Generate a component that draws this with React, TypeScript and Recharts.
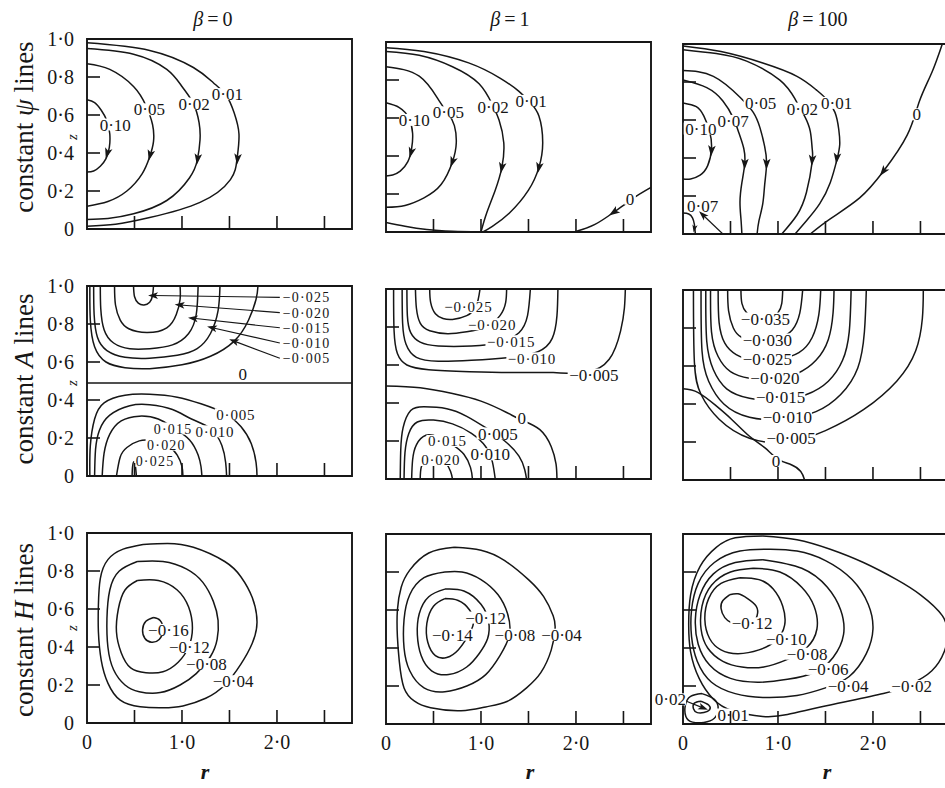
import { LineChart, Line, XAxis, YAxis, ReferenceArea, ReferenceDot, ReferenceLine } from 'recharts';

type Pt = [number, number];
type Lab = { t: string; r: number; z: number; a?: 'start' | 'middle'; fs?: number };
type Arrow = [number, number, number, number?]; // r, z, screen angle, scale

// axes
const R_MAX = 2.79;
const R_TICKS = [0, 0.5, 1, 1.5, 2, 2.5];
const R_LABELS = [0, 1, 2];
const Z_TICKS = [0, 0.2, 0.4, 0.6, 0.8, 1];
const COL_TITLES = ['0', '1', '100'];
const ROW_TITLES = ['ψ', 'A', 'H'];

// ---- constant psi lines ----
const psi0_010: Pt[] = [[0, 0.68], [0.08, 0.665], [0.15, 0.625], [0.21, 0.57], [0.24, 0.5], [0.235, 0.43], [0.2, 0.37], [0.14, 0.33], [0.07, 0.305], [0, 0.3]];
const psi0_005: Pt[] = [[0, 0.87], [0.24, 0.84], [0.49, 0.75], [0.62, 0.65], [0.69, 0.55], [0.7, 0.46], [0.66, 0.38], [0.58, 0.29], [0.42, 0.2], [0.22, 0.145], [0, 0.12]];
const psi0_002: Pt[] = [[0, 0.95], [0.49, 0.92], [0.84, 0.84], [1.0, 0.75], [1.12, 0.66], [1.18, 0.56], [1.19, 0.47], [1.16, 0.36], [1.08, 0.27], [0.84, 0.15], [0.49, 0.08], [0.22, 0.055], [0, 0.05]];
const psi0_001: Pt[] = [[0, 0.98], [0.66, 0.94], [1.12, 0.85], [1.33, 0.77], [1.47, 0.7], [1.55, 0.61], [1.6, 0.5], [1.58, 0.37], [1.51, 0.26], [1.19, 0.14], [0.66, 0.06], [0.3, 0.025], [0, 0.015]];
const psi0Labels: Lab[] = [{ t: '0·10', r: 0.29, z: 0.55 }, { t: '0·05', r: 0.65, z: 0.63 }, { t: '0·02', r: 1.12, z: 0.66 }, { t: '0·01', r: 1.47, z: 0.71 }];
const psi0Arrows: Arrow[] = [[0.215, 0.4, 106], [0.665, 0.39, 104], [1.165, 0.37, 98], [1.585, 0.37, 96]];

const psi1_010: Pt[] = [[0, 0.68], [0.14, 0.655], [0.24, 0.6], [0.28, 0.52], [0.27, 0.44], [0.23, 0.37], [0.15, 0.32], [0.07, 0.3], [0, 0.295]];
const psi1_005: Pt[] = [[0, 0.87], [0.35, 0.82], [0.56, 0.69], [0.66, 0.62], [0.72, 0.56], [0.74, 0.47], [0.7, 0.37], [0.58, 0.25], [0.4, 0.18], [0.2, 0.14], [0, 0.13]];
const psi1_002: Pt[] = [[0, 0.95], [0.35, 0.93], [0.7, 0.87], [0.98, 0.78], [1.12, 0.67], [1.19, 0.59], [1.24, 0.47], [1.22, 0.34], [1.15, 0.22], [1.06, 0.1], [1.0, 0]];
const psi1_002b: Pt[] = [[1.0, 0], [0.7, 0.004], [0.43, 0.013], [0.2, 0.03], [0, 0.05]];
const psi1_001: Pt[] = [[0, 0.97], [0.4, 0.95], [0.87, 0.89], [1.2, 0.81], [1.4, 0.74], [1.52, 0.68], [1.61, 0.61], [1.65, 0.47], [1.61, 0.34], [1.5, 0.22], [1.3, 0.1], [1.12, 0.03], [1.02, 0]];
const psi1_0: Pt[] = [[2.79, 0.235], [2.64, 0.19], [2.5, 0.14], [2.4, 0.105], [2.2, 0.04], [1.98, 0]];
const psi1Labels: Lab[] = [{ t: '0·10', r: 0.29, z: 0.59 }, { t: '0·05', r: 0.65, z: 0.63 }, { t: '0·02', r: 1.12, z: 0.66 }, { t: '0·01', r: 1.52, z: 0.69 }, { t: '0', r: 2.57, z: 0.175 }];
const psi1Arrows: Arrow[] = [[0.265, 0.42, 105], [0.7, 0.37, 110], [1.22, 0.34, 100], [1.61, 0.34, 102], [2.4, 0.105, 146]];

const psi100_010: Pt[] = [[0, 0.69], [0.14, 0.67], [0.22, 0.62], [0.28, 0.54], [0.3, 0.45], [0.26, 0.36], [0.18, 0.31], [0.08, 0.29], [0, 0.29]];
const psi100_007: Pt[] = [[0, 0.81], [0.25, 0.77], [0.42, 0.7], [0.53, 0.61], [0.59, 0.53], [0.64, 0.45], [0.65, 0.37], [0.62, 0.27], [0.6, 0.17], [0.61, 0.08], [0.62, 0]];
const psi100_005: Pt[] = [[0, 0.86], [0.32, 0.83], [0.6, 0.72], [0.74, 0.64], [0.81, 0.56], [0.86, 0.46], [0.88, 0.37], [0.86, 0.26], [0.84, 0.16], [0.8, 0.07], [0.78, 0]];
const psi100_002: Pt[] = [[0, 0.97], [0.35, 0.95], [0.67, 0.91], [1.02, 0.81], [1.18, 0.71], [1.28, 0.62], [1.34, 0.54], [1.36, 0.45], [1.36, 0.38], [1.3, 0.22], [1.2, 0.1], [1.04, 0]];
const psi100_001: Pt[] = [[0, 0.99], [0.4, 0.96], [0.84, 0.9], [1.2, 0.83], [1.4, 0.76], [1.51, 0.71], [1.6, 0.64], [1.64, 0.55], [1.65, 0.47], [1.62, 0.39], [1.55, 0.27], [1.44, 0.16], [1.3, 0.07], [1.18, 0]];
const psi100_0: Pt[] = [[2.73, 1.0], [2.62, 0.85], [2.49, 0.7], [2.36, 0.52], [2.11, 0.33], [1.86, 0.19], [1.55, 0.08], [1.34, 0]];
const psi100_007b: Pt[] = [[0, 0.11], [0.06, 0.105], [0.1, 0.085], [0.12, 0.05], [0.13, 0]];
const psi100Labels: Lab[] = [{ t: '0·10', r: 0.18, z: 0.555 }, { t: '0·07', r: 0.52, z: 0.595 }, { t: '0·05', r: 0.81, z: 0.69 }, { t: '0·02', r: 1.25, z: 0.66 }, { t: '0·01', r: 1.61, z: 0.69 }, { t: '0', r: 2.46, z: 0.63 }, { t: '0·07', r: 0.2, z: 0.15 }];
const psi100Arrows: Arrow[] = [[0.3, 0.44, 95], [0.65, 0.37, 92], [0.88, 0.37, 92], [1.36, 0.39, 95], [1.62, 0.4, 97], [2.11, 0.33, 127], [0.12, 0.03, 100, 0.7]];
const psi100Leaders: [Pt, Pt][] = [[[0.42, 0], [0.21, 0.1]]];

// ---- constant A lines ----
const a0_m025: Pt[] = [[0.49, 1], [0.5, 0.945], [0.54, 0.91], [0.6, 0.9], [0.66, 0.915], [0.69, 0.95], [0.7, 1]];
const a0_m020: Pt[] = [[0.29, 1], [0.3, 0.9], [0.35, 0.82], [0.44, 0.775], [0.63, 0.755], [0.84, 0.78], [0.94, 0.85], [0.98, 0.93], [0.98, 1]];
const a0_m015: Pt[] = [[0.14, 1], [0.145, 0.88], [0.18, 0.77], [0.28, 0.7], [0.45, 0.67], [0.66, 0.67], [0.9, 0.69], [1.07, 0.75], [1.15, 0.85], [1.17, 1]];
const a0_m010: Pt[] = [[0.07, 1], [0.075, 0.85], [0.11, 0.73], [0.21, 0.66], [0.4, 0.625], [0.66, 0.62], [0.95, 0.635], [1.16, 0.67], [1.3, 0.75], [1.38, 0.87], [1.4, 1]];
const a0_m005: Pt[] = [[0.03, 1], [0.035, 0.82], [0.08, 0.68], [0.2, 0.6], [0.4, 0.57], [0.66, 0.565], [1.0, 0.585], [1.3, 0.63], [1.55, 0.71], [1.7, 0.82], [1.78, 0.93], [1.8, 1]];
const a0_0: Pt[] = [[0, 0.49], [2.79, 0.49]];
const a0_p005: Pt[] = [[0.03, 0], [0.035, 0.16], [0.08, 0.3], [0.18, 0.385], [0.4, 0.425], [0.66, 0.43], [0.95, 0.415], [1.2, 0.38], [1.45, 0.33], [1.62, 0.26], [1.73, 0.17], [1.78, 0.07], [1.79, 0]];
const a0_p010: Pt[] = [[0.08, 0], [0.09, 0.14], [0.13, 0.24], [0.24, 0.32], [0.45, 0.37], [0.66, 0.375], [0.9, 0.35], [1.1, 0.3], [1.3, 0.25], [1.42, 0.16], [1.46, 0.07], [1.47, 0]];
const a0_p015: Pt[] = [[0.16, 0], [0.18, 0.12], [0.24, 0.22], [0.36, 0.29], [0.55, 0.315], [0.75, 0.3], [0.92, 0.25], [1.08, 0.19], [1.17, 0.11], [1.2, 0.05], [1.21, 0]];
const a0_p020: Pt[] = [[0.31, 0], [0.35, 0.1], [0.42, 0.15], [0.55, 0.185], [0.7, 0.185], [0.85, 0.16], [0.95, 0.11], [1.0, 0.05], [1.01, 0]];
const a0_p025: Pt[] = [[0.475, 0], [0.48, 0.05], [0.495, 0.075], [0.51, 0.05], [0.52, 0]];
const a0Labels: Lab[] = [
  { t: '0', r: 1.64, z: 0.54 }, { t: '0·005', r: 1.56, z: 0.325, fs: 15 }, { t: '0·010', r: 1.34, z: 0.235, fs: 15 },
  { t: '0·015', r: 0.9, z: 0.25, fs: 14 }, { t: '0·020', r: 0.83, z: 0.165, fs: 14 }, { t: '0·025', r: 0.71, z: 0.08, fs: 14 },
  { t: '−0·025', r: 2.06, z: 0.94, a: 'start', fs: 14 }, { t: '−0·020', r: 2.06, z: 0.86, a: 'start', fs: 14 },
  { t: '−0·015', r: 2.06, z: 0.78, a: 'start', fs: 14 }, { t: '−0·010', r: 2.06, z: 0.7, a: 'start', fs: 14 },
  { t: '−0·005', r: 2.06, z: 0.62, a: 'start', fs: 14 },
];
const a0Leaders: [Pt, Pt][] = [
  [[2.03, 0.94], [0.7, 0.95]], [[2.03, 0.86], [0.98, 0.9]], [[2.03, 0.78], [1.12, 0.83]],
  [[2.03, 0.7], [1.32, 0.78]], [[2.03, 0.62], [1.55, 0.71]],
];

const a1_m025: Pt[] = [[0.46, 1], [0.47, 0.93], [0.52, 0.87], [0.6, 0.845], [0.7, 0.84], [0.85, 0.86], [0.95, 0.91], [0.99, 1]];
const a1_m020: Pt[] = [[0.31, 1], [0.32, 0.9], [0.36, 0.82], [0.46, 0.78], [0.65, 0.765], [0.85, 0.775], [1.05, 0.8], [1.2, 0.86], [1.26, 0.93], [1.27, 1]];
const a1_m015: Pt[] = [[0.22, 1], [0.225, 0.86], [0.26, 0.77], [0.36, 0.72], [0.55, 0.7], [0.9, 0.7], [1.2, 0.72], [1.4, 0.77], [1.49, 0.86], [1.52, 1]];
const a1_m010: Pt[] = [[0.17, 1], [0.175, 0.82], [0.21, 0.71], [0.32, 0.64], [0.55, 0.62], [0.9, 0.625], [1.3, 0.64], [1.6, 0.67], [1.75, 0.74], [1.8, 0.86], [1.81, 1]];
const a1_m005: Pt[] = [[0.08, 1], [0.085, 0.78], [0.12, 0.66], [0.22, 0.6], [0.45, 0.575], [0.88, 0.565], [1.4, 0.56], [1.76, 0.56], [2.1, 0.56], [2.35, 0.63], [2.47, 0.78], [2.51, 0.9], [2.52, 1]];
const a1_0: Pt[] = [[0, 0.49], [0.36, 0.48], [0.7, 0.45], [1.0, 0.41], [1.27, 0.35], [1.43, 0.31], [1.62, 0.26], [1.74, 0.17], [1.79, 0.08], [1.8, 0]];
const a1_p005: Pt[] = [[0.15, 0], [0.155, 0.15], [0.18, 0.27], [0.26, 0.36], [0.4, 0.38], [0.64, 0.37], [0.85, 0.33], [1.05, 0.27], [1.25, 0.2], [1.4, 0.12], [1.46, 0.05], [1.48, 0]];
const a1_p010: Pt[] = [[0.19, 0], [0.2, 0.14], [0.24, 0.24], [0.33, 0.3], [0.5, 0.31], [0.7, 0.29], [0.9, 0.24], [1.05, 0.17], [1.12, 0.09], [1.15, 0]];
const a1_p015: Pt[] = [[0.27, 0], [0.28, 0.1], [0.32, 0.18], [0.42, 0.23], [0.55, 0.22], [0.7, 0.18], [0.82, 0.13], [0.89, 0.06], [0.91, 0]];
const a1_p020: Pt[] = [[0.36, 0], [0.37, 0.06], [0.42, 0.1], [0.52, 0.115], [0.62, 0.09], [0.68, 0.04], [0.7, 0]];
const a1Labels: Lab[] = [
  { t: '−0·025', r: 0.86, z: 0.905, fs: 15 }, { t: '−0·020', r: 1.11, z: 0.815, fs: 15 }, { t: '−0·015', r: 1.31, z: 0.725, fs: 15 },
  { t: '−0·010', r: 1.53, z: 0.635, fs: 15 }, { t: '−0·005', r: 2.18, z: 0.55 }, { t: '0', r: 1.43, z: 0.32 },
  { t: '0·005', r: 1.17, z: 0.24 }, { t: '0·010', r: 1.09, z: 0.13 }, { t: '0·015', r: 0.64, z: 0.2, fs: 15 },
  { t: '0·020', r: 0.57, z: 0.1, fs: 15 },
];

const a100_m035: Pt[] = [[0.61, 1], [0.62, 0.93], [0.67, 0.88], [0.76, 0.855], [0.9, 0.85], [1.0, 0.88], [1.04, 0.93], [1.05, 1]];
const a100_m030: Pt[] = [[0.47, 1], [0.48, 0.89], [0.53, 0.8], [0.62, 0.75], [0.8, 0.73], [1.0, 0.745], [1.15, 0.79], [1.23, 0.88], [1.26, 1]];
const a100_m025: Pt[] = [[0.37, 1], [0.38, 0.83], [0.44, 0.72], [0.56, 0.66], [0.75, 0.63], [1.0, 0.635], [1.22, 0.67], [1.36, 0.75], [1.43, 0.87], [1.45, 1]];
const a100_m020: Pt[] = [[0.29, 1], [0.3, 0.78], [0.37, 0.65], [0.5, 0.57], [0.7, 0.535], [0.95, 0.53], [1.2, 0.56], [1.4, 0.63], [1.53, 0.74], [1.58, 0.88], [1.59, 1]];
const a100_m015: Pt[] = [[0.24, 1], [0.25, 0.73], [0.32, 0.58], [0.46, 0.48], [0.7, 0.43], [1.0, 0.42], [1.3, 0.45], [1.53, 0.52], [1.68, 0.63], [1.75, 0.78], [1.77, 1]];
const a100_m010: Pt[] = [[0.19, 1], [0.2, 0.68], [0.27, 0.52], [0.43, 0.4], [0.7, 0.33], [1.05, 0.32], [1.4, 0.36], [1.66, 0.45], [1.84, 0.59], [1.91, 0.78], [1.93, 1]];
const a100_m005: Pt[] = [[0.11, 1], [0.12, 0.62], [0.19, 0.45], [0.38, 0.32], [0.7, 0.22], [1.1, 0.2], [1.5, 0.26], [1.9, 0.37], [2.25, 0.52], [2.45, 0.68], [2.52, 0.85], [2.53, 1]];
const a100_0: Pt[] = [[0, 0.48], [0.16, 0.46], [0.35, 0.39], [0.51, 0.32], [0.7, 0.23], [0.86, 0.17], [1.0, 0.11], [1.14, 0.08], [1.24, 0.045], [1.28, 0]];
const a100Labels: Lab[] = [
  { t: '−0·035', r: 0.86, z: 0.85 }, { t: '−0·030', r: 0.88, z: 0.74 }, { t: '−0·025', r: 0.88, z: 0.64 },
  { t: '−0·020', r: 0.96, z: 0.54 }, { t: '−0·015', r: 1.02, z: 0.44 }, { t: '−0·010', r: 1.09, z: 0.33 },
  { t: '−0·005', r: 1.13, z: 0.22 }, { t: '0', r: 0.98, z: 0.1 },
];

// ---- constant H lines ----
const h0_m004: Pt[] = [[0.59, 0.94], [0.38, 0.915], [0.22, 0.86], [0.14, 0.76], [0.12, 0.62], [0.12, 0.48], [0.15, 0.33], [0.22, 0.21], [0.35, 0.12], [0.56, 0.085], [0.8, 0.08], [1.01, 0.09], [1.25, 0.13], [1.45, 0.2], [1.62, 0.31], [1.74, 0.42], [1.79, 0.53], [1.74, 0.66], [1.62, 0.77], [1.45, 0.85], [1.12, 0.925], [0.85, 0.945], [0.59, 0.94]];
const h0_m008: Pt[] = [[0.53, 0.85], [0.34, 0.8], [0.24, 0.7], [0.21, 0.55], [0.22, 0.4], [0.28, 0.28], [0.4, 0.2], [0.55, 0.165], [0.77, 0.16], [0.98, 0.2], [1.15, 0.26], [1.3, 0.35], [1.37, 0.44], [1.38, 0.54], [1.33, 0.64], [1.22, 0.74], [1.05, 0.81], [0.8, 0.85], [0.53, 0.85]];
const h0_m012: Pt[] = [[0.53, 0.75], [0.4, 0.7], [0.33, 0.6], [0.31, 0.48], [0.36, 0.37], [0.46, 0.29], [0.62, 0.265], [0.8, 0.27], [0.96, 0.32], [1.07, 0.4], [1.11, 0.5], [1.07, 0.61], [0.95, 0.7], [0.75, 0.75], [0.53, 0.75]];
const h0_m016: Pt[] = [[0.7, 0.555], [0.62, 0.535], [0.585, 0.49], [0.61, 0.445], [0.68, 0.425], [0.76, 0.44], [0.8, 0.49], [0.77, 0.54], [0.7, 0.555]];
const h0Labels: Lab[] = [{ t: '−0·16', r: 0.85, z: 0.49 }, { t: '−0·12', r: 1.07, z: 0.4 }, { t: '−0·08', r: 1.25, z: 0.31 }, { t: '−0·04', r: 1.53, z: 0.22 }];

const h1_m004: Pt[] = [[0.72, 0.93], [0.45, 0.9], [0.25, 0.81], [0.16, 0.72], [0.12, 0.6], [0.12, 0.46], [0.14, 0.33], [0.19, 0.19], [0.3, 0.12], [0.47, 0.085], [0.79, 0.07], [1.05, 0.09], [1.28, 0.12], [1.48, 0.19], [1.63, 0.27], [1.74, 0.39], [1.78, 0.5], [1.76, 0.57], [1.66, 0.67], [1.5, 0.76], [1.25, 0.86], [1.0, 0.915], [0.72, 0.93]];
const h1_m008: Pt[] = [[0.62, 0.8], [0.4, 0.77], [0.25, 0.68], [0.19, 0.55], [0.19, 0.4], [0.25, 0.28], [0.4, 0.19], [0.62, 0.17], [0.85, 0.2], [1.05, 0.26], [1.2, 0.36], [1.3, 0.47], [1.28, 0.58], [1.18, 0.68], [1.0, 0.76], [0.8, 0.8], [0.62, 0.8]];
const h1_m012: Pt[] = [[0.62, 0.71], [0.45, 0.67], [0.35, 0.58], [0.33, 0.47], [0.37, 0.36], [0.48, 0.28], [0.66, 0.26], [0.85, 0.3], [0.98, 0.37], [1.07, 0.45], [1.08, 0.54], [1.0, 0.63], [0.82, 0.7], [0.62, 0.71]];
const h1_m014: Pt[] = [[0.62, 0.66], [0.5, 0.62], [0.43, 0.53], [0.44, 0.43], [0.52, 0.36], [0.64, 0.35], [0.76, 0.39], [0.86, 0.46], [0.92, 0.53], [0.88, 0.6], [0.76, 0.65], [0.62, 0.66]];
const h1Labels: Lab[] = [{ t: '−0·14', r: 0.69, z: 0.47 }, { t: '−0·12', r: 1.04, z: 0.56 }, { t: '−0·08', r: 1.35, z: 0.47 }, { t: '−0·04', r: 1.84, z: 0.47 }];

const h100_m002: Pt[] = [[0.84, 0.99], [0.55, 0.98], [0.35, 0.93], [0.18, 0.83], [0.08, 0.68], [0.06, 0.52], [0.08, 0.38], [0.17, 0.24], [0.32, 0.13], [0.52, 0.07], [0.84, 0.04], [1.1, 0.05], [1.55, 0.1], [2.11, 0.16], [2.4, 0.21], [2.62, 0.28], [2.75, 0.38], [2.785, 0.47], [2.73, 0.57], [2.5, 0.68], [2.25, 0.76], [1.9, 0.85], [1.55, 0.92], [1.2, 0.97], [0.84, 0.99]];
const h100_m004: Pt[] = [[0.92, 0.92], [0.6, 0.91], [0.33, 0.85], [0.16, 0.74], [0.09, 0.6], [0.09, 0.46], [0.15, 0.33], [0.3, 0.22], [0.55, 0.16], [0.84, 0.14], [1.2, 0.15], [1.5, 0.19], [1.75, 0.25], [1.93, 0.37], [2.0, 0.5], [1.95, 0.63], [1.78, 0.76], [1.5, 0.86], [1.2, 0.91], [0.92, 0.92]];
const h100_m006: Pt[] = [[0.84, 0.865], [0.55, 0.85], [0.32, 0.79], [0.18, 0.68], [0.13, 0.55], [0.16, 0.42], [0.28, 0.31], [0.5, 0.24], [0.8, 0.22], [1.1, 0.235], [1.38, 0.27], [1.58, 0.35], [1.69, 0.47], [1.66, 0.6], [1.52, 0.72], [1.25, 0.82], [0.84, 0.865]];
const h100_m008: Pt[] = [[0.74, 0.82], [0.5, 0.8], [0.3, 0.73], [0.2, 0.62], [0.19, 0.5], [0.26, 0.4], [0.42, 0.33], [0.62, 0.3], [0.85, 0.3], [1.1, 0.34], [1.3, 0.4], [1.41, 0.5], [1.38, 0.62], [1.25, 0.72], [1.02, 0.8], [0.74, 0.82]];
const h100_m010: Pt[] = [[0.6, 0.77], [0.4, 0.74], [0.27, 0.66], [0.23, 0.55], [0.28, 0.45], [0.4, 0.39], [0.58, 0.37], [0.8, 0.39], [0.98, 0.44], [1.07, 0.52], [1.05, 0.62], [0.95, 0.71], [0.8, 0.76], [0.6, 0.77]];
const h100_m012: Pt[] = [[0.49, 0.68], [0.42, 0.65], [0.4, 0.61], [0.44, 0.56], [0.52, 0.53], [0.62, 0.52], [0.72, 0.53], [0.78, 0.57], [0.77, 0.62], [0.68, 0.66], [0.58, 0.685], [0.49, 0.68]];
const h100_p001: Pt[] = [[0.2, 0.16], [0.08, 0.145], [0.025, 0.1], [0.03, 0.04], [0.1, 0.01], [0.22, 0.008], [0.33, 0.03], [0.37, 0.08], [0.33, 0.13], [0.2, 0.16]];
const h100_p002: Pt[] = [[0.19, 0.12], [0.12, 0.11], [0.11, 0.08], [0.15, 0.06], [0.22, 0.06], [0.28, 0.075], [0.27, 0.1], [0.19, 0.12]];
const h100Labels: Lab[] = [
  { t: '−0·12', r: 0.72, z: 0.53 }, { t: '−0·10', r: 1.08, z: 0.45 }, { t: '−0·08', r: 1.3, z: 0.37 },
  { t: '−0·06', r: 1.52, z: 0.29 }, { t: '−0·04', r: 1.73, z: 0.2 }, { t: '−0·02', r: 2.4, z: 0.2 },
  { t: '0·01', r: 0.52, z: 0.05 }, { t: '0·02', r: -0.14, z: 0.13 },
];
const h100Leaders: [Pt, Pt][] = [[[0.01, 0.125], [0.21, 0.085]]];

const SERIF = "'Liberation Serif', 'Times New Roman', serif";
const INK = '#161616';
const PW = 265;
const PH = 190;
const ML = 80;
const MT = 12;
const MR = 14;
const XH = 40;
const TICK = 13;
const KR = PW / R_MAX;
const KZ = PH;
const LFS = 17;

const fmt = (v: number) => (Math.abs(v) < 1e-9 ? '0' : v.toFixed(1).replace('.', '·'));
const textW = (t: string, fs: number) =>
  [...t].reduce((s, c) => s + (c === '·' ? 0.25 : c === '−' ? 0.56 : 0.5), 0) * fs;

function RTick({ x, y, payload, showLabel }: any) {
  const v = payload.value;
  return (
    <g>
      {v > 0.01 && <line x1={x} x2={x} y1={y} y2={y - TICK} stroke={INK} strokeWidth={1.6} />}
      {showLabel && R_LABELS.some((l) => Math.abs(l - v) < 1e-6) && (
        <text x={x} y={y + 26} textAnchor="middle" fontFamily={SERIF} fontSize={20} fill={INK}>{fmt(v)}</text>
      )}
    </g>
  );
}

function ZTick({ x, y, payload, showLabel }: any) {
  const v = payload.value;
  return (
    <g>
      {v > 0.01 && v < 0.99 && <line x1={x} x2={x + TICK} y1={y} y2={y} stroke={INK} strokeWidth={1.6} />}
      {showLabel && (
        <text x={x - 13} y={y} dy="0.34em" textAnchor="end" fontFamily={SERIF} fontSize={20} fill={INK}>{fmt(v)}</text>
      )}
    </g>
  );
}

const arrowShape = (angle: number, s = 1) => (p: any) => (
  <path d="M6,0 L-5,-3.8 L-2.4,0 L-5,3.8 Z" transform={`translate(${p.cx},${p.cy}) rotate(${angle}) scale(${s})`} fill={INK} />
);

const labelShape = (l: Lab) => (p: any) => {
  const fs = l.fs ?? LFS;
  const sp = l.fs ? (17 - fs) * 0.4 : 0;
  const w = textW(l.t, fs) + sp * l.t.length;
  const x0 = l.a === 'start' ? p.cx : p.cx - w / 2;
  return (
    <g>
      <rect x={x0 - 1.5} y={p.cy - 6} width={w + 3} height={12} fill="#fff" />
      <text x={x0} y={p.cy} dy="0.36em" fontFamily={SERIF} fontSize={fs} letterSpacing={sp} fill={INK}>{l.t}</text>
    </g>
  );
};

type PanelProps = {
  left: number; top: number; lines: Pt[][]; labels: Lab[]; arrows?: Arrow[]; leaders?: [Pt, Pt][];
  showY: boolean; showX: boolean;
};

function Panel({ left, top, lines, labels, arrows = [], leaders = [], showY, showX }: PanelProps) {
  return (
    <div style={{ position: 'absolute', left: left - ML, top: top - MT }}>
      <LineChart width={ML + PW + MR} height={MT + PH + XH} margin={{ top: MT, right: MR, bottom: 0, left: 0 }}>
        <XAxis type="number" dataKey="r" domain={[0, R_MAX]} ticks={R_TICKS} interval={0} height={XH}
          axisLine={false} tickLine={false} tickSize={0} tickMargin={0} allowDataOverflow
          tick={(p: any) => <RTick {...p} showLabel={showX} />} />
        <YAxis type="number" domain={[0, 1]} ticks={Z_TICKS} interval={0} width={ML}
          axisLine={false} tickLine={false} tickSize={0} tickMargin={0} allowDataOverflow
          tick={(p: any) => <ZTick {...p} showLabel={showY} />} />
        {lines.map((c, i) => (
          <Line key={i} data={c.map(([r, z]) => ({ r, z }))} dataKey="z" type="natural" stroke={INK}
            strokeWidth={1.5} dot={false} activeDot={false} isAnimationActive={false} />
        ))}
        {leaders.map(([a, b], i) => (
          <ReferenceLine key={'l' + i} segment={[{ x: a[0], y: a[1] }, { x: b[0], y: b[1] }]} stroke={INK}
            strokeWidth={1.15} ifOverflow="visible" />
        ))}
        {labels.map((l, i) => (
          <ReferenceDot key={'t' + i} x={l.r} y={l.z} r={1} ifOverflow="visible" shape={labelShape(l)} />
        ))}
        {arrows.map(([r, z, ang, s], i) => (
          <ReferenceDot key={'a' + i} x={r} y={z} r={1} ifOverflow="visible" shape={arrowShape(ang, s ?? 1)} />
        ))}
        {leaders.map(([a, b], i) => (
          <ReferenceDot key={'h' + i} x={b[0]} y={b[1]} r={1} ifOverflow="visible"
            shape={arrowShape((Math.atan2(-(b[1] - a[1]) * KZ, (b[0] - a[0]) * KR) * 180) / Math.PI, 0.9)} />
        ))}
        <ReferenceArea x1={0} x2={R_MAX} y1={0} y2={1} fill="none" stroke={INK} strokeWidth={1.9} ifOverflow="visible" />
      </LineChart>
    </div>
  );
}

const COL_X = [87, 386, 683];
const ROW_Y = [[39, 42, 44], [286, 289, 290], [533, 534, 534]];

const PANELS: Omit<PanelProps, 'left' | 'top' | 'showX' | 'showY'>[][] = [
  [
    { lines: [psi0_010, psi0_005, psi0_002, psi0_001], labels: psi0Labels, arrows: psi0Arrows },
    { lines: [psi1_010, psi1_005, psi1_002, psi1_002b, psi1_001, psi1_0], labels: psi1Labels, arrows: psi1Arrows },
    { lines: [psi100_010, psi100_007, psi100_005, psi100_002, psi100_001, psi100_0, psi100_007b], labels: psi100Labels, arrows: psi100Arrows, leaders: psi100Leaders },
  ],
  [
    { lines: [a0_m025, a0_m020, a0_m015, a0_m010, a0_m005, a0_0, a0_p005, a0_p010, a0_p015, a0_p020, a0_p025], labels: a0Labels, leaders: a0Leaders },
    { lines: [a1_m025, a1_m020, a1_m015, a1_m010, a1_m005, a1_0, a1_p005, a1_p010, a1_p015, a1_p020], labels: a1Labels },
    { lines: [a100_m035, a100_m030, a100_m025, a100_m020, a100_m015, a100_m010, a100_m005, a100_0], labels: a100Labels },
  ],
  [
    { lines: [h0_m004, h0_m008, h0_m012, h0_m016], labels: h0Labels },
    { lines: [h1_m004, h1_m008, h1_m012, h1_m014], labels: h1Labels },
    { lines: [h100_m002, h100_m004, h100_m006, h100_m008, h100_m010, h100_m012, h100_p001, h100_p002], labels: h100Labels, leaders: h100Leaders },
  ],
];

const TITLE_X = [213, 510, 818];
const ROW_LABEL_Y = [127, 379, 630];
const Z_LABEL_Y = [137, 383, 628];
const R_LABEL_X = [205, 530, 827];

export default function App() {
  return (
    <div style={{ position: 'absolute', left: 0, top: 0, width: 945, height: 788, overflow: 'hidden', background: '#fff' }}>
      {PANELS.map((row, ri) =>
        row.map((p, ci) => (
          <Panel key={`${ri}-${ci}`} {...p} left={COL_X[ci]} top={ROW_Y[ri][ci]} showY={ci === 0} showX={ri === 2} />
        ))
      )}
      <svg width={945} height={788} style={{ position: 'absolute', left: 0, top: 0, pointerEvents: 'none' }}>
        <g fontFamily={SERIF} fill={INK}>
          {COL_TITLES.map((b, i) => (
            <text key={b} x={TITLE_X[i]} y={26} textAnchor="middle" fontSize={20}>
              <tspan fontStyle="italic">β</tspan>{'\u2009=\u2009' + b}
            </text>
          ))}
          {ROW_TITLES.map((s, i) => (
            <text key={s} transform={`translate(24,${ROW_LABEL_Y[i]}) rotate(-90)`} textAnchor="middle"
              dominantBaseline="central" fontSize={27}>
              constant <tspan fontStyle="italic">{s}</tspan> lines
            </text>
          ))}
          {Z_LABEL_Y.map((y, i) => (
            <text key={'z' + i} transform={`translate(72,${y}) rotate(-90)`} textAnchor="middle"
              dominantBaseline="central" fontSize={15} fontStyle="italic">z</text>
          ))}
          {R_LABEL_X.map((x, i) => (
            <text key={'r' + i} x={x} y={779} textAnchor="middle" fontSize={22} fontStyle="italic" fontWeight="bold">r</text>
          ))}
        </g>
      </svg>
    </div>
  );
}
